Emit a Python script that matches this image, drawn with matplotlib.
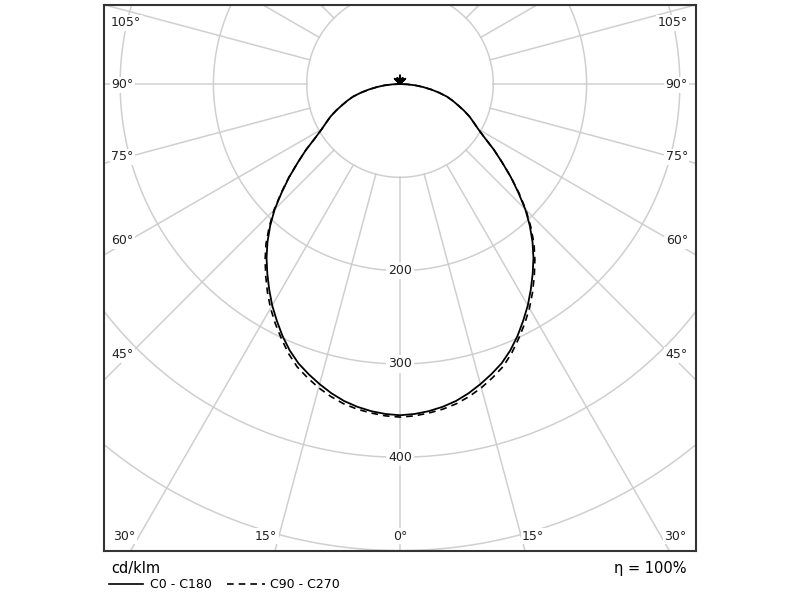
import numpy as np
import matplotlib.pyplot as plt

# Polar intensity data (cd/klm), gamma in degrees from nadir
gamma = np.arange(0, 180.1, 2.5)

c0_c180 = [355, 354, 352, 349, 345, 339.5, 333, 326, 318.5, 309, 298, 286,
           274, 261, 248, 235, 221, 206, 190, 172, 155, 138, 123, 108,
           97, 89, 82, 74, 66, 59, 52, 43, 34, 25, 17, 8, 0,
           0, 0, 0, 0, 0, 0, 0, 0, 0, 0, 0, 0, 0, 0, 0, 0, 0, 8,
           0, 0, 0, 0, 0, 0, 0, 0, 7, 0, 0, 0, 0, 0, 0, 0, 0, 9]
c90_c270 = [357, 356, 354, 351.5, 348, 343, 337, 330, 322.5, 312.5, 301, 289.5,
            277.5, 264.5, 251, 237.5, 223.5, 207.5, 191, 173, 155.5, 138, 123, 108,
            97, 89, 82, 74, 66, 59, 52, 43, 34, 25, 17, 8, 0,
            0, 0, 0, 0, 0, 0, 0, 0, 0, 0, 0, 0, 0, 0, 0, 0, 0, 0,
            0, 0, 0, 0, 7, 0, 0, 0, 0, 0, 0, 0, 0, 0, 0, 6, 0, 0]

ring_values = [100, 200, 300, 400, 500, 600]
ring_labels = ['200', '300', '400']
spoke_angles = np.arange(0, 360, 15)

# angle labels: (text, x px, y px, ha)
angle_labels = [('105°', 111, 23, 'left'), ('90°', 111, 85, 'left'),
                ('75°', 111, 157, 'left'), ('60°', 111, 241, 'left'),
                ('45°', 111, 355, 'left'),
                ('105°', 688, 23, 'right'), ('90°', 688, 85, 'right'),
                ('75°', 688, 157, 'right'), ('60°', 688, 241, 'right'),
                ('45°', 688, 355, 'right'),
                ('30°', 124, 536, 'center'), ('15°', 266, 536, 'center'),
                ('0°', 400, 536, 'center'), ('15°', 533, 536, 'center'),
                ('30°', 675, 536, 'center')]

grid_col = '#cfcfcf'

fig = plt.figure(figsize=(8, 6), dpi=100)
ax = fig.add_axes([104 / 800, 49 / 600, 592 / 800, 546 / 600])
ax.set_xlim(-317.3, 317.3)
ax.set_ylim(-500.5, 84.7)
ax.set_xticks([])
ax.set_yticks([])
for sp in ax.spines.values():
    sp.set_color('#333333')
    sp.set_linewidth(1.5)

# grid rings and spokes
t = np.linspace(0, 2 * np.pi, 400)
for r in ring_values:
    ax.plot(r * np.cos(t), r * np.sin(t), color=grid_col, lw=1.1, zorder=1)
for a in spoke_angles:
    rad = np.deg2rad(a)
    ax.plot([100 * np.sin(rad), 800 * np.sin(rad)],
            [-100 * np.cos(rad), -800 * np.cos(rad)],
            color=grid_col, lw=1.1, zorder=1)

for lab in ring_labels:
    ax.text(0, -int(lab), lab, ha='center', va='center', fontsize=9,
            color='#222222', zorder=2,
            bbox=dict(facecolor='white', edgecolor='none', pad=1.5))

for txt, px, py, ha in angle_labels:
    ax.text((px - 104) / 592, (551 - py) / 546, txt, transform=ax.transAxes,
            ha=ha, va='center', fontsize=9, color='#222222', zorder=2,
            bbox=dict(facecolor='white', edgecolor='none', pad=1.0))


def curve(values):
    g = np.deg2rad(gamma)
    v = np.array(values, dtype=float)
    # left half (C180 / C270) from 180 down to 0, right half (C0 / C90) from 0 to 180
    x = np.concatenate([-(v * np.sin(g))[::-1], v * np.sin(g)])
    y = np.concatenate([-(v * np.cos(g))[::-1], -v * np.cos(g)])
    return x, y


x1, y1 = curve(c0_c180)
x2, y2 = curve(c90_c270)
ax.plot(x2, y2, color='black', lw=1.2, ls=(0, (4, 3)), zorder=3)
ax.plot(x1, y1, color='black', lw=1.3, zorder=4)

# legend and footer
fig.text(111 / 800, 1 - 568 / 600, 'cd/klm', fontsize=10.5, va='center', ha='left')
fig.lines.append(plt.Line2D([109 / 800, 143 / 800], [1 - 584 / 600] * 2,
                            color='black', lw=1.2, transform=fig.transFigure))
fig.text(150 / 800, 1 - 584 / 600, 'C0 - C180', fontsize=9, va='center', ha='left')
fig.lines.append(plt.Line2D([227 / 800, 265 / 800], [1 - 584 / 600] * 2,
                            color='black', lw=1.2, ls=(0, (4, 3)),
                            transform=fig.transFigure))
fig.text(270 / 800, 1 - 584 / 600, 'C90 - C270', fontsize=9, va='center', ha='left')
fig.text(686 / 800, 1 - 569 / 600, 'η = 100%', fontsize=10.5, va='center', ha='right')

fig.savefig('out.png', dpi=100, facecolor='white')
